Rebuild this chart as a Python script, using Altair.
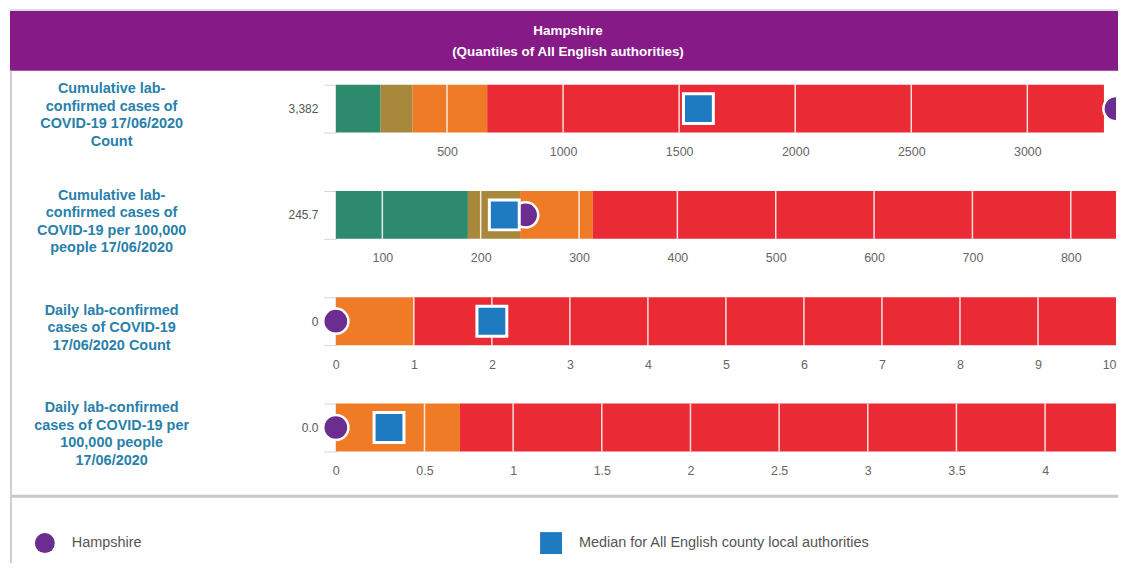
import altair as alt
import pandas as pd

FONT = "Liberation Sans"

# ---- data ----
header_lines = ["Hampshire", "(Quantiles of All English authorities)"]
row_titles = [
    "Cumulative lab-\nconfirmed cases of\nCOVID-19 17/06/2020\nCount",
    "Cumulative lab-\nconfirmed cases of\nCOVID-19 per 100,000\npeople 17/06/2020",
    "Daily lab-confirmed\ncases of COVID-19\n17/06/2020 Count",
    "Daily lab-confirmed\ncases of COVID-19 per\n100,000 people\n17/06/2020",
]
value_labels = ["3,382", "245.7", "0", "0.0"]
hampshire_values = [3382, 245.7, 0, 0.0]
median_values = [1583, 224, 2, 0.30]
domain_min = [21, 52.7, 0, 0]
domain_max = [3382, 846, 10, 4.40]
# quantile band boundaries
green_end = [214, 187, 0, 0]
olive_end = [352, 240, 0, 0]
orange_end = [673, 314, 1, 0.70]
red_end = [3330, 846, 10, 4.40]
tick_values = [
    [500, 1000, 1500, 2000, 2500, 3000],
    [100, 200, 300, 400, 500, 600, 700, 800],
    [0, 1, 2, 3, 4, 5, 6, 7, 8, 9, 10],
    [0, 0.5, 1, 1.5, 2, 2.5, 3, 3.5, 4],
]
band_names = ["Q1", "Q2", "Q3", "Q4"]
band_colors = ["#2e8a6c", "#a8883a", "#f07b27", "#ea2a35"]
legend_labels = ["Hampshire", "Median for All English county local authorities"]

PURPLE = "#6b2d8f"
BLUE = "#1f7bc1"
HEADER = "#861a87"
TEAL = "#2980aa"
W, H = 783, 48
LINE_H = 17.6


def row_chart(i):
    lab = value_labels[i]
    seg = pd.DataFrame({
        "band": band_names,
        "start": [domain_min[i], green_end[i], olive_end[i], orange_end[i]],
        "end": [green_end[i], olive_end[i], orange_end[i], red_end[i]],
        "lab": [lab] * 4,
    })
    xscale = alt.Scale(domain=[domain_min[i], domain_max[i]], nice=False, zero=False)
    dmax = domain_max[i]
    yenc = alt.Y(
        "lab:N", title=None,
        scale=alt.Scale(paddingInner=0, paddingOuter=0),
        axis=alt.Axis(tickBand="extent", tickSize=12, tickColor="#d6d6d6",
                      domainColor="#d6d6d6", labelPadding=6, labelFontSize=12,
                      labelColor="#555555", labelFont=FONT),
    )
    bars = alt.Chart(seg).mark_bar(opacity=1).encode(
        x=alt.X("start:Q", scale=xscale, title=None,
                axis=alt.Axis(values=tick_values[i], grid=False, ticks=False, tickSize=0,
                              domain=False, labelPadding=13, labelFontSize=12.5,
                              labelColor="#666666", labelFont=FONT, format="~r",
                              labelAlign={"expr": f"datum.value >= {dmax} ? 'right' : 'center'"})),
        x2="end:Q",
        y=yenc,
        color=alt.Color("band:N", scale=alt.Scale(domain=band_names, range=band_colors), legend=None),
    )
    grid_vals = [v for v in tick_values[i] if domain_min[i] < v < domain_max[i]]
    grid = alt.Chart(pd.DataFrame({"v": grid_vals})).mark_rule(
        color="white", strokeWidth=1.5, opacity=0.85
    ).encode(x=alt.X("v:Q", scale=xscale))
    pts = pd.DataFrame({"lab": [lab], "h": [hampshire_values[i]], "m": [median_values[i]]})
    clip = hampshire_values[i] >= domain_max[i]
    circle = alt.Chart(pts).mark_point(
        shape="circle", filled=True, fill=PURPLE, stroke="white", strokeWidth=2.5,
        size=640, opacity=1, clip=clip
    ).encode(x=alt.X("h:Q", scale=xscale), y=alt.Y("lab:N"))
    square = alt.Chart(pts).mark_point(
        shape="square", filled=True, fill=BLUE, stroke="white", strokeWidth=3,
        size=900, opacity=1
    ).encode(x=alt.X("m:Q", scale=xscale), y=alt.Y("lab:N"))
    n_lines = row_titles[i].count("\n") + 1
    title = alt.Chart(pd.DataFrame({"t": [row_titles[i]]})).mark_text(
        align="center", baseline="middle", lineBreak="\n", font=FONT, fontSize=14.5,
        fontWeight="bold", color=TEAL, lineHeight=LINE_H
    ).encode(x=alt.value(-225), y=alt.value(31 - (n_lines - 1) * LINE_H / 2), text="t:N")
    layers = [bars, grid, circle, square, title]

    if i == 0:
        top_line = alt.Chart(pd.DataFrame({"a": [0]})).mark_rule(color="#dcdcdc", strokeWidth=2).encode(
            x=alt.value(-327), x2=alt.value(785), y=alt.value(-75))
        band = alt.Chart(pd.DataFrame({"a": [0]})).mark_rect(color=HEADER).encode(
            x=alt.value(-327), x2=alt.value(785), y=alt.value(-74), y2=alt.value(-14))
        htext = alt.Chart(pd.DataFrame({"t": header_lines, "yy": [-54, -33]})).mark_text(
            align="center", baseline="middle", font=FONT, fontSize=13.5, fontWeight="bold", color="white"
        ).encode(x=alt.value(233), y=alt.Y("yy:Q", scale=None), text="t:N")
        layers = [top_line, band, htext] + layers
    if i == 3:
        hline = alt.Chart(pd.DataFrame({"a": [0]})).mark_rule(color="#c8c8c8", strokeWidth=3).encode(
            x=alt.value(-327), x2=alt.value(785), y=alt.value(93))
        vline = alt.Chart(pd.DataFrame({"a": [0]})).mark_rule(color="#cfcfcf", strokeWidth=2).encode(
            x=alt.value(-326), y=alt.value(-334), y2=alt.value(160))
        lc = alt.Chart(pd.DataFrame({"a": [0]})).mark_point(
            shape="circle", filled=True, fill=PURPLE, size=400, opacity=1).encode(
            x=alt.value(-292), y=alt.value(140))
        ls = alt.Chart(pd.DataFrame({"a": [0]})).mark_point(
            shape="square", filled=True, fill=BLUE, size=484, opacity=1).encode(
            x=alt.value(216), y=alt.value(140))
        lt = alt.Chart(pd.DataFrame({"t": legend_labels, "xx": [-265, 244]})).mark_text(
            align="left", baseline="middle", font=FONT, fontSize=14.5, color="#555555"
        ).encode(x=alt.X("xx:Q", scale=None), y=alt.value(140), text="t:N")
        layers = layers + [hline, vline, lc, ls, lt]

    return alt.layer(*layers).properties(width=W, height=H)


rows = [row_chart(i) for i in range(4)]
chart = alt.vconcat(*rows, spacing=58.67, bounds="flush").properties(
    padding=0, background="white"
).configure_view(stroke=None)

chart.save("out.html", embed_options={"renderer": "svg", "actions": False})
